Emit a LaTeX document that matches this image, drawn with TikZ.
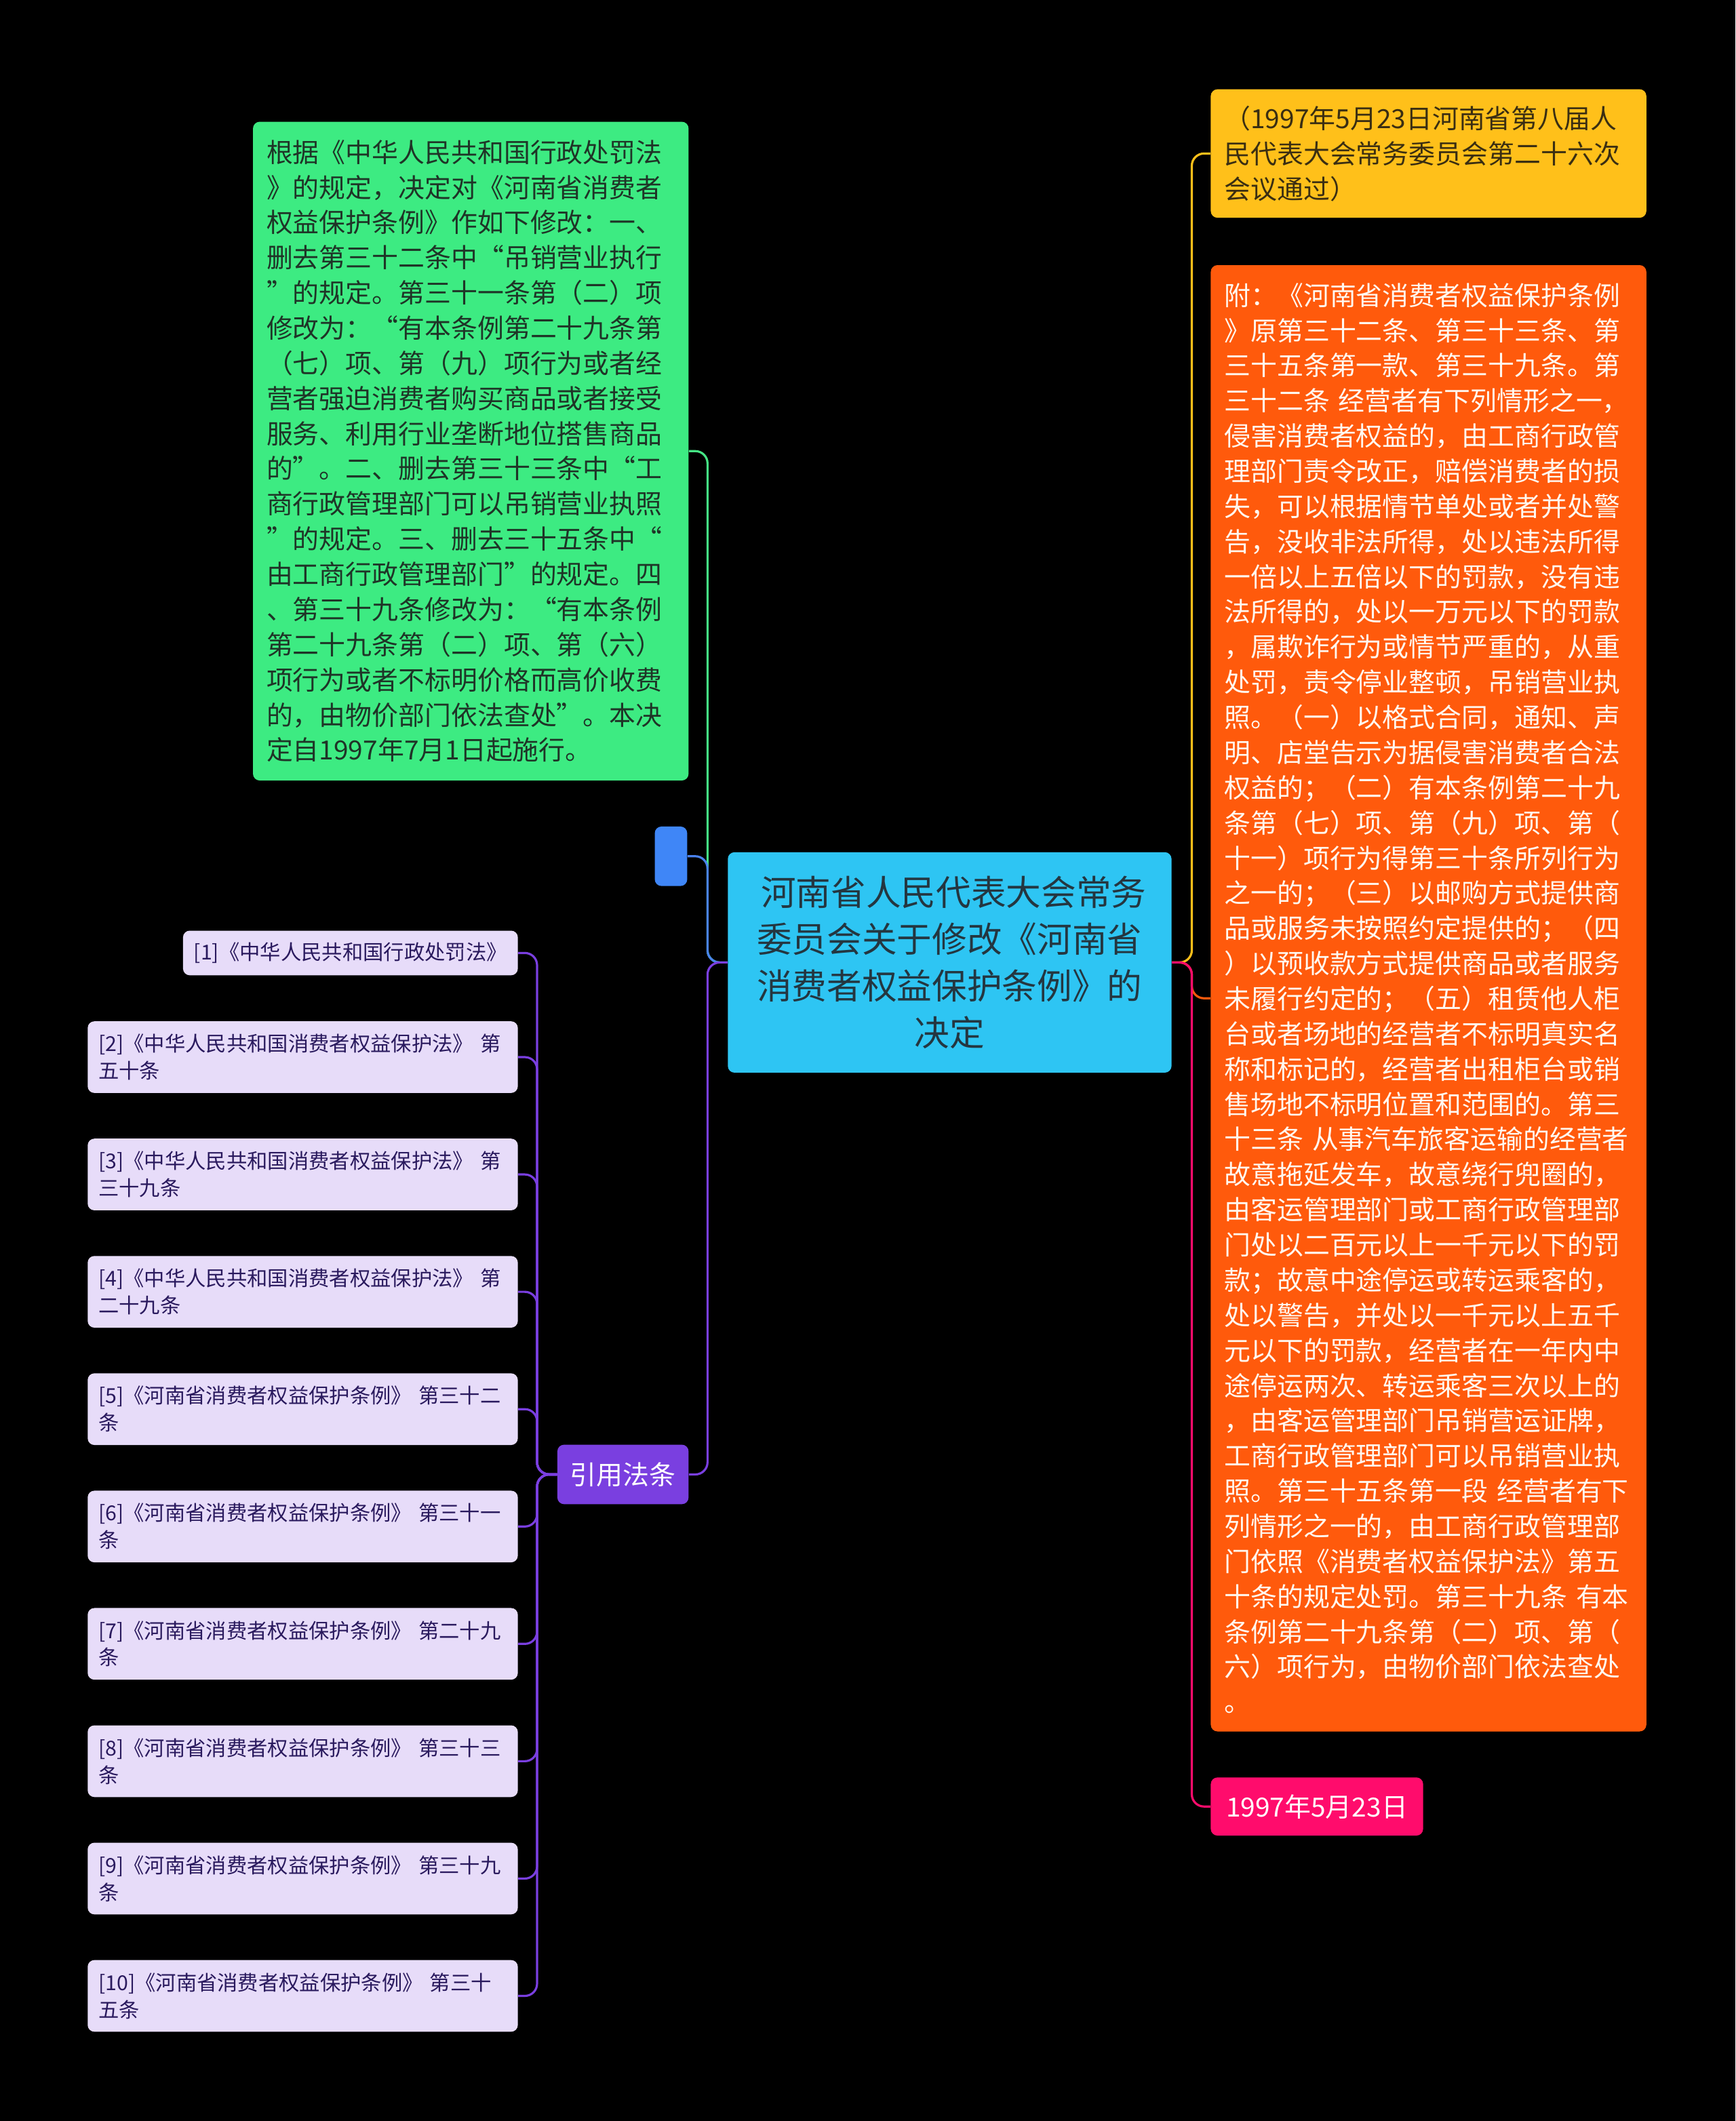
\documentclass[tikz,border=0pt]{standalone}
\usepackage{fontspec}
\usepackage{tikz}
\newfontfamily\cjk{Noto Sans CJK SC}
\newfontfamily\cjkfw[RawFeature=+fwid]{Noto Sans CJK SC}
\newcommand{\qopen}{{\cjkfw “}}
\newcommand{\qclose}{{\cjkfw ”}}
\definecolor{topicblue}{HTML}{2EC5F3}
\definecolor{topictext}{HTML}{243640}
\definecolor{sumgreen}{HTML}{3DEB82}
\definecolor{sumtext}{HTML}{1F3427}
\definecolor{blankblue}{HTML}{3F86F7}
\definecolor{citepurple}{HTML}{7A3FE0}
\definecolor{refbg}{HTML}{E7DCF9}
\definecolor{reftext}{HTML}{2A1A5E}
\definecolor{noteyellow}{HTML}{FFC01A}
\definecolor{notetext}{HTML}{3A2E12}
\definecolor{bodyorange}{HTML}{FF5A0C}
\definecolor{bodytext}{HTML}{FFF8F0}
\definecolor{datepink}{HTML}{FF0C6C}
\definecolor{linkgreen}{HTML}{45E585}
\definecolor{linkblue}{HTML}{4A82EE}
\tikzset{
    topic/.style={rectangle, rounded corners=5pt, fill=topicblue, text=topictext, minimum width=328pt, minimum height=163pt, align=center, inner sep=0pt, font=\cjk\fontsize{25.9}{34.6}\selectfont},
    summary/.style={rectangle, rounded corners=5pt, fill=sumgreen, text=sumtext, text width=302pt, inner xsep=10pt, inner ysep=0pt, align=left, font=\cjk\fontsize{19.5}{26}\selectfont},
    notebox/.style={summary, fill=noteyellow, text=notetext},
    bodybox/.style={summary, fill=bodyorange, text=bodytext},
    datebox/.style={rectangle, rounded corners=5pt, fill=datepink, text=white, minimum width=157pt, minimum height=43pt, inner sep=0pt, font=\cjk\fontsize{19.5}{26}\selectfont},
    blank/.style={rectangle, rounded corners=5pt, fill=blankblue, minimum width=24pt, minimum height=44pt, inner sep=0pt},
    citebox/.style={rectangle, rounded corners=5pt, fill=citepurple, text=white, minimum width=97pt, minimum height=44pt, inner sep=0pt, font=\cjk\fontsize{19.5}{26}\selectfont},
    refbox/.style={rectangle, rounded corners=5pt, fill=refbg, text=reftext, inner xsep=8pt, inner ysep=0pt, align=left, anchor=east, font=\cjk\fontsize{15.2}{20}\selectfont},
    refwide/.style={refbox, text width=302pt, minimum height=53pt},
    link/.style={line width=1.6pt, rounded corners=9pt}
}

\begin{document}
\begin{tikzpicture}[x=1pt, y=-1pt]
        \fill[black] (0,0) rectangle (1283,1568);
        \useasboundingbox (0,0) rectangle (1283,1568);

        % Trunks
        \coordinate (ltrunk) at (523,0);
        \coordinate (ctrunk) at (397,0);
        \coordinate (rtrunk) at (881,0);

        % Main topic
        \node (main) [topic] at (702,711.5) {\ 河南省人民代表大会常务\\委员会关于修改《河南省\\消费者权益保护条例》的\\决定};

        % Summary
        \node (gsum) [summary, minimum height=487pt] at (348,333.5) {
            根据《中华人民共和国行政处罚法\\
            》的规定，决定对《河南省消费者\\
            权益保护条例》作如下修改：一、\\
            删去第三十二条中\qopen{}吊销营业执行\\
            \qclose{}的规定。第三十一条第（二）项\\
            修改为：\qopen{}有本条例第二十九条第\\
            （七）项、第（九）项行为或者经\\
            营者强迫消费者购买商品或者接受\\
            服务、利用行业垄断地位搭售商品\\
            的\qclose{}。二、删去第三十三条中\qopen{}工\\
            商行政管理部门可以吊销营业执照\\
            \qclose{}的规定。三、删去三十五条中\qopen{}\\
            由工商行政管理部门\qclose{}的规定。四\\
            、第三十九条修改为：\qopen{}有本条例\\
            第二十九条第（二）项、第（六）\\
            项行为或者不标明价格而高价收费\\
            的，由物价部门依法查处\qclose{}。本决\\
            定自1997年7月1日起施行。
        };

        % Empty topic
        \node (blank) [blank] at (496,633) {};

        % Cited laws
        \node (cite) [citebox] at (460.5,1090) {引用法条};
        \node (ref1) [refbox, minimum height=33pt] at (383,704.5) {[1]《中华人民共和国行政处罚法》};
        \node (ref2) [refwide] at (383,781.5) {[2]《中华人民共和国消费者权益保护法》~第\\五十条};
        \node (ref3) [refwide] at (383,868.25) {[3]《中华人民共和国消费者权益保护法》~第\\三十九条};
        \node (ref4) [refwide] at (383,955) {[4]《中华人民共和国消费者权益保护法》~第\\二十九条};
        \node (ref5) [refwide] at (383,1041.75) {[5]《河南省消费者权益保护条例》~第三十二\\条};
        \node (ref6) [refwide] at (383,1128.5) {[6]《河南省消费者权益保护条例》~第三十一\\条};
        \node (ref7) [refwide] at (383,1215.25) {[7]《河南省消费者权益保护条例》~第二十九\\条};
        \node (ref8) [refwide] at (383,1302) {[8]《河南省消费者权益保护条例》~第三十三\\条};
        \node (ref9) [refwide] at (383,1388.75) {[9]《河南省消费者权益保护条例》~第三十九\\条};
        \node (ref10) [refwide] at (383,1475.5) {[10]《河南省消费者权益保护条例》~第三十\\五条};

        % Note
        \node (note) [notebox, minimum height=95pt] at (1056,113.5) {
            （1997年5月23日河南省第八届人\\
            民代表大会常务委员会第二十六次\\
            会议通过）
        };

        % Appendix
        \node (body) [bodybox, minimum height=1084pt] at (1056,738) {
            附：《河南省消费者权益保护条例\\
            》原第三十二条、第三十三条、第\\
            三十五条第一款、第三十九条。第\\
            三十二条~经营者有下列情形之一，\\
            侵害消费者权益的，由工商行政管\\
            理部门责令改正，赔偿消费者的损\\
            失，可以根据情节单处或者并处警\\
            告，没收非法所得，处以违法所得\\
            一倍以上五倍以下的罚款，没有违\\
            法所得的，处以一万元以下的罚款\\
            ，属欺诈行为或情节严重的，从重\\
            处罚，责令停业整顿，吊销营业执\\
            照。（一）以格式合同，通知、声\\
            明、店堂告示为据侵害消费者合法\\
            权益的；（二）有本条例第二十九\\
            条第（七）项、第（九）项、第（\\
            十一）项行为得第三十条所列行为\\
            之一的；（三）以邮购方式提供商\\
            品或服务未按照约定提供的；（四\\
            ）以预收款方式提供商品或者服务\\
            未履行约定的；（五）租赁他人柜\\
            台或者场地的经营者不标明真实名\\
            称和标记的，经营者出租柜台或销\\
            售场地不标明位置和范围的。第三\\
            十三条~从事汽车旅客运输的经营者\\
            故意拖延发车，故意绕行兜圈的，\\
            由客运管理部门或工商行政管理部\\
            门处以二百元以上一千元以下的罚\\
            款；故意中途停运或转运乘客的，\\
            处以警告，并处以一千元以上五千\\
            元以下的罚款，经营者在一年内中\\
            途停运两次、转运乘客三次以上的\\
            ，由客运管理部门吊销营运证牌，\\
            工商行政管理部门可以吊销营业执\\
            照。第三十五条第一段~经营者有下\\
            列情形之一的，由工商行政管理部\\
            门依照《消费者权益保护法》第五\\
            十条的规定处罚。第三十九条~有本\\
            条例第二十九条第（二）项、第（\\
            六）项行为，由物价部门依法查处\\
            。
        };

        % Date
        \node (date) [datebox] at (973.5,1335.5) {1997年5月23日};

        % Connections left
        \draw[link, draw=linkgreen] (main.west) -- (main.west -| ltrunk) |- (gsum.east);
        \draw[link, draw=linkblue] (main.west) -- (main.west -| ltrunk) |- (blank.east);
        \draw[link, draw=citepurple] (main.west) -- (main.west -| ltrunk) |- (cite.east);

        % Connections cited laws
        \draw[link, draw=citepurple] (cite.west) -- (cite.west -| ctrunk) |- (ref1.east);
        \draw[link, draw=citepurple] (cite.west) -- (cite.west -| ctrunk) |- (ref2.east);
        \draw[link, draw=citepurple] (cite.west) -- (cite.west -| ctrunk) |- (ref3.east);
        \draw[link, draw=citepurple] (cite.west) -- (cite.west -| ctrunk) |- (ref4.east);
        \draw[link, draw=citepurple] (cite.west) -- (cite.west -| ctrunk) |- (ref5.east);
        \draw[link, draw=citepurple] (cite.west) -- (cite.west -| ctrunk) |- (ref6.east);
        \draw[link, draw=citepurple] (cite.west) -- (cite.west -| ctrunk) |- (ref7.east);
        \draw[link, draw=citepurple] (cite.west) -- (cite.west -| ctrunk) |- (ref8.east);
        \draw[link, draw=citepurple] (cite.west) -- (cite.west -| ctrunk) |- (ref9.east);
        \draw[link, draw=citepurple] (cite.west) -- (cite.west -| ctrunk) |- (ref10.east);

        % Connections right
        \draw[link, draw=noteyellow] (main.east) -- (main.east -| rtrunk) |- (note.west);
        \draw[link, draw=bodyorange] (main.east) -- (main.east -| rtrunk) |- (body.west);
        \draw[link, draw=datepink] (main.east) -- (main.east -| rtrunk) |- (date.west);
\end{tikzpicture}
\end{document}
